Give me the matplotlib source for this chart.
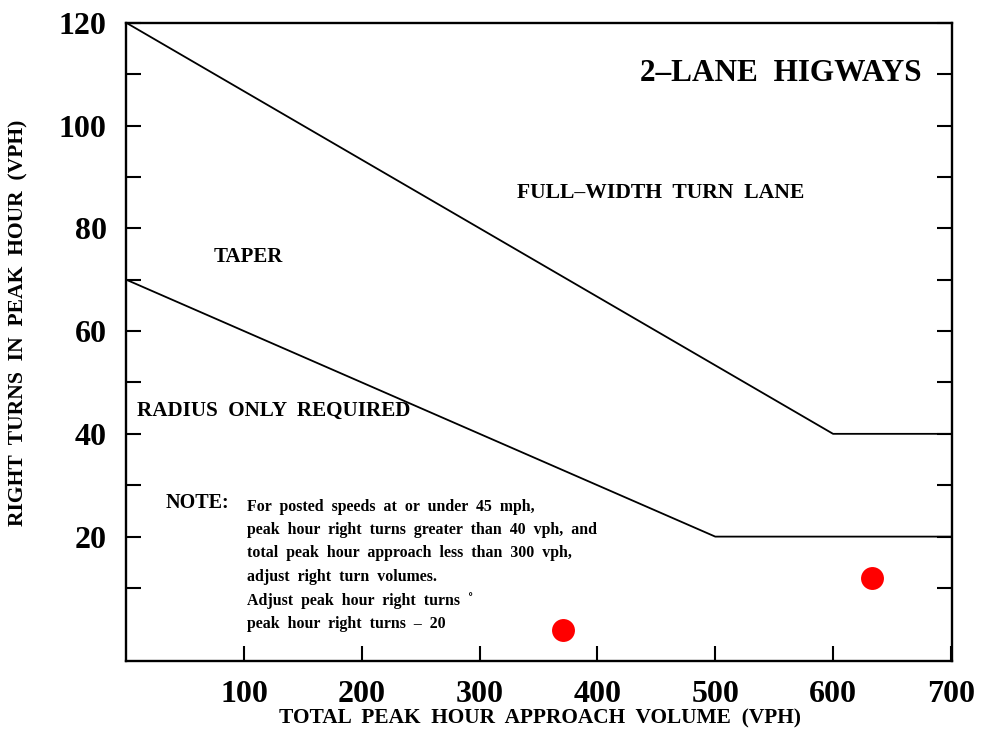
import matplotlib
matplotlib.use("Agg")
import matplotlib.pyplot as plt
from matplotlib.ticker import FixedLocator

# ---- data ----
upper_x = [0, 600, 700]
upper_y = [120, 40, 40]
lower_x = [0, 500, 700]
lower_y = [70, 20, 20]
points_x = [371, 633]
points_y = [1.8, 12.0]
xtick_vals = [100, 200, 300, 400, 500, 600, 700]
ytick_vals = [20, 40, 60, 80, 100, 120]
note_lines = [
    "For  posted  speeds  at  or  under  45  mph,",
    "peak  hour  right  turns  greater  than  40  vph,  and",
    "total  peak  hour  approach  less  than  300  vph,",
    "adjust  right  turn  volumes.",
    "Adjust  peak  hour  right  turns  \u02da",
    "peak  hour  right  turns  \u2013  20",
]

plt.rcParams['font.family'] = ['Liberation Serif', 'DejaVu Serif']
plt.rcParams['font.weight'] = 'bold'

fig = plt.figure(figsize=(9.82, 7.31), dpi=100)
ax = fig.add_axes([0.1285, 0.0958, 0.8410, 0.8731])

ax.plot(upper_x, upper_y, color='black', lw=1.3)
ax.plot(lower_x, lower_y, color='black', lw=1.3)
ax.plot(points_x, points_y, 'o', color='#ff0000', ms=16.5, mec='none', zorder=5)

ax.set_xlim(0, 701)
ax.set_ylim(-4.2, 120)

for s in ax.spines.values():
    s.set_linewidth(1.7)
    s.set_color('black')

ax.xaxis.set_major_locator(FixedLocator(xtick_vals))
ax.yaxis.set_major_locator(FixedLocator(ytick_vals))
ax.yaxis.set_minor_locator(FixedLocator([10, 30, 50, 70, 90, 110]))
ax.tick_params(axis='both', which='both', direction='in', length=11, width=1.5,
               labelsize=23, pad=14, colors='black')
ax.tick_params(axis='x', which='major', top=False, bottom=True)
ax.tick_params(axis='y', which='both', left=True, right=True)
ax.set_xticklabels([str(v) for v in xtick_vals], fontweight='bold')
ax.set_yticklabels([str(v) for v in ytick_vals], fontweight='bold')

fig.text(540/982, 1 - 718/731, "TOTAL  PEAK  HOUR  APPROACH  VOLUME  (VPH)",
         ha='center', va='center', fontsize=15.4, fontweight='bold')
fig.text(18/982, 1 - 323/731, "RIGHT  TURNS  IN  PEAK  HOUR  (VPH)",
         ha='center', va='center', rotation=90, fontsize=15.6, fontweight='bold')

ax.text(556, 110.2, "2\u2013LANE  HIGWAYS", ha='center', va='center',
        fontsize=22.5, fontweight='bold')
ax.text(454, 86.9, "FULL\u2013WIDTH  TURN  LANE", ha='center', va='center',
        fontsize=15.6, fontweight='bold')
ax.text(104, 74.4, "TAPER", ha='center', va='center', fontsize=15, fontweight='bold')
ax.text(125.5, 44.4, "RADIUS  ONLY  REQUIRED", ha='center', va='center',
        fontsize=15.2, fontweight='bold')
ax.text(33, 26.5, "NOTE:", ha='left', va='center', fontsize=14.5, fontweight='bold')
note_y = [25.7, 21.3, 16.8, 12.1, 7.5, 3.0]
for txt, yy in zip(note_lines, note_y):
    ax.text(102.6, yy, txt, ha='left', va='center', fontsize=11.4, fontweight='bold')

fig.savefig("out.png", dpi=100, facecolor='white')
